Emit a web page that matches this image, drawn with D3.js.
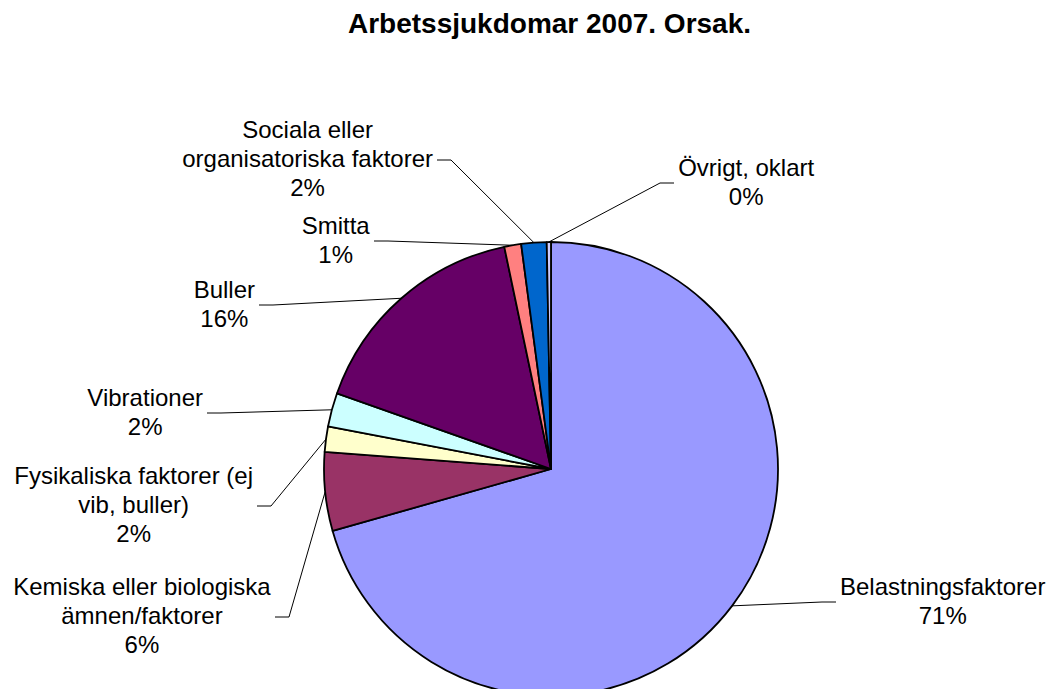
<!DOCTYPE html>
<html>
<head>
<meta charset="utf-8">
<script src="https://cdn.jsdelivr.net/npm/d3@7"></script>
<style>
  body { margin: 0; background: #fff; }
  text { font-family: "Liberation Sans", Arial, sans-serif; fill: #000; }
</style>
</head>
<body>
<svg id="chart"></svg>
<script>
// data
var categories = [
  "Belastningsfaktorer",
  "Kemiska eller biologiska\nämnen/faktorer",
  "Fysikaliska faktorer (ej\nvib, buller)",
  "Vibrationer",
  "Buller",
  "Smitta",
  "Sociala eller\norganisatoriska faktorer",
  "Övrigt, oklart"
];
var values = [70.6, 5.6, 1.8, 2.4, 16.3, 1.2, 1.8, 0.3];
var colors = ["#9999FF", "#993366", "#FFFFCC", "#CCFFFF", "#660066", "#FF8080", "#0066CC", "#CCCCFF"];
var title = "Arbetssjukdomar 2007. Orsak.";

// label anchors relative to pie centre (layout only)
var labelAnchor = [[285, 133], [-276, 148], [-294, 37], [-344, -56], [-292, -164], [-177, -228], [-114, -309], [123, -286]];

var width = 1049, height = 689;
var cx = 551, cy = 469, r = 227;
var lineH = 29;

var svg = d3.select("#chart").attr("width", width).attr("height", height);

svg.append("text")
    .attr("x", 549.5).attr("y", 33)
    .attr("text-anchor", "middle")
    .style("font-size", "28px").style("font-weight", "bold")
    .text(title);

var total = d3.sum(values);
var pie = d3.pie().sort(null).value(function(d) { return d; });
var arcs = pie(values);
var arc = d3.arc().innerRadius(0).outerRadius(r);

var g = svg.append("g").attr("transform", "translate(" + cx + "," + cy + ")");

g.selectAll("path.slice")
  .data(arcs)
  .enter().append("path")
    .attr("class", "slice")
    .attr("d", arc)
    .attr("fill", function(d, i) { return colors[i]; })
    .attr("stroke", "#000")
    .attr("stroke-width", 1.8)
    .attr("stroke-linejoin", "round");

// leader lines
g.selectAll("polyline.leader")
  .data(arcs)
  .enter().append("polyline")
    .attr("class", "leader")
    .attr("fill", "none")
    .attr("stroke", "#000")
    .attr("stroke-width", 1)
    .attr("points", function(d, i) {
      var a = labelAnchor[i];
      var side = a[0] > 0 ? 1 : -1;
      var mid = (d.startAngle + d.endAngle) / 2;
      var ex = r * Math.sin(mid), ey = -r * Math.cos(mid);
      return [a, [a[0] - side * 14, a[1]], [ex, ey]].map(function(p) { return p.join(","); }).join(" ");
    });

// labels
var labels = g.selectAll("g.label")
  .data(arcs)
  .enter().append("g")
    .attr("class", "label");

labels.each(function(d, i) {
  var a = labelAnchor[i];
  var side = a[0] > 0 ? 1 : -1;
  var lines = categories[i].split("\n");
  lines.push(Math.round(d.value / total * 100) + "%");
  var n = lines.length;
  var t = d3.select(this).append("text")
      .attr("text-anchor", "middle")
      .style("font-size", "24px");
  t.selectAll("tspan")
    .data(lines)
    .enter().append("tspan")
      .attr("x", 0)
      .attr("y", function(l, k) { return a[1] + (k - (n - 1) / 2) * lineH + 7; })
      .text(function(l) { return l; });
  var w = t.node().getBBox().width;
  t.attr("transform", "translate(" + (a[0] + side * (4 + w / 2)) + ",0)");
});
</script>
</body>
</html>
